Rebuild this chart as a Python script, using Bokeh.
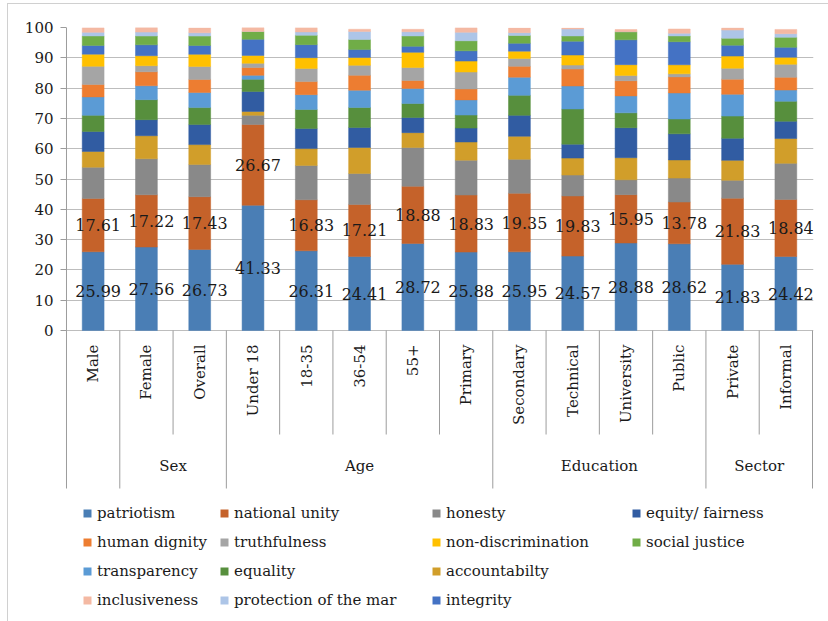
import math
from bokeh.plotting import figure
from bokeh.models import ColumnDataSource, FixedTicker, Legend, LegendItem
from bokeh.core.properties import value
from bokeh.embed import file_html
from bokeh.resources import INLINE

# ---------------- data ----------------
categories = ["Male", "Female", "Overall", "Under 18", "18-35", "36-54", "55+",
              "Primary", "Secondary", "Technical", "University", "Public",
              "Private", "Informal"]
group_names = ["", "Sex", "Age", "Education", "Sector"]
group_sizes = [1, 2, 5, 4, 2]

patriotism            = [25.99, 27.56, 26.73, 41.33, 26.31, 24.41, 28.72, 25.88, 25.95, 24.57, 28.88, 28.62, 21.83, 24.42]
national_unity        = [17.61, 17.22, 17.43, 26.67, 16.83, 17.21, 18.88, 18.83, 19.35, 19.83, 15.95, 13.78, 21.83, 18.84]
honesty               = [10.3, 11.9, 10.6, 3.0, 11.3, 10.2, 12.8, 11.5, 11.2, 6.9, 4.9, 7.9, 5.9, 11.9]
accountabilty         = [5.2, 7.6, 6.6, 1.3, 5.6, 8.6, 4.9, 6.0, 7.6, 5.6, 7.3, 6.0, 6.6, 8.2]
equity_fairness       = [6.6, 5.3, 6.6, 6.6, 6.6, 6.6, 5.0, 4.6, 6.9, 4.6, 9.9, 8.6, 7.3, 5.7]
equality              = [5.3, 6.6, 5.6, 4.0, 6.3, 6.6, 4.6, 4.3, 6.6, 11.6, 4.9, 4.9, 7.3, 6.6]
transparency          = [6.1, 4.6, 5.0, 1.3, 4.9, 5.7, 5.0, 5.0, 6.0, 7.6, 5.6, 8.6, 7.2, 3.7]
human_dignity         = [4.1, 4.6, 4.3, 2.6, 4.3, 4.9, 2.6, 3.6, 3.6, 5.6, 5.0, 5.3, 5.0, 4.2]
truthfulness          = [6.0, 2.0, 4.3, 1.4, 4.3, 3.3, 4.3, 5.6, 2.6, 1.3, 1.7, 1.0, 3.6, 4.3]
non_discrimination    = [4.0, 3.3, 4.0, 2.6, 3.6, 2.6, 5.0, 3.6, 2.4, 3.3, 3.6, 3.0, 4.0, 2.3]
integrity             = [2.9, 3.6, 2.9, 5.3, 4.3, 2.6, 2.0, 3.4, 2.6, 4.6, 8.2, 7.6, 3.6, 3.3]
social_justice        = [3.1, 2.9, 3.1, 2.6, 3.1, 3.3, 3.4, 3.3, 2.6, 1.7, 2.7, 1.9, 2.3, 3.3]
protection_of_the_mar = [1.2, 1.3, 1.1, 0.0, 1.1, 2.7, 1.4, 2.8, 0.9, 2.3, 0.0, 0.9, 2.7, 1.2]
inclusiveness         = [1.5, 1.5, 1.6, 1.3, 1.4, 0.7, 0.8, 1.5, 1.5, 0.3, 0.7, 1.4, 0.7, 1.4]

y_ticks = list(range(0, 101, 10))

# (key, legend label, values, colour) in stacking order, bottom to top
series = [
    ("patriotism", "patriotism", patriotism, "#4a7eb5"),
    ("national_unity", "national unity", national_unity, "#c5622a"),
    ("honesty", "honesty", honesty, "#898989"),
    ("accountabilty", "accountabilty", accountabilty, "#d19e2a"),
    ("equity_fairness", "equity/ fairness", equity_fairness, "#315ca2"),
    ("equality", "equality", equality, "#578f3d"),
    ("transparency", "transparency", transparency, "#5b9bd5"),
    ("human_dignity", "human dignity", human_dignity, "#ed7d31"),
    ("truthfulness", "truthfulness", truthfulness, "#a5a5a5"),
    ("non_discrimination", "non-discrimination", non_discrimination, "#ffc000"),
    ("integrity", "integrity", integrity, "#4472c4"),
    ("social_justice", "social justice", social_justice, "#70ad47"),
    ("protection_of_the_mar", "protection of the mar", protection_of_the_mar, "#adc5e7"),
    ("inclusiveness", "inclusiveness", inclusiveness, "#f4b9a3"),
]

legend_columns = [
    ["patriotism", "human dignity", "transparency", "inclusiveness"],
    ["national unity", "truthfulness", "equality", "protection of the mar"],
    ["honesty", "non-discrimination", "accountabilty", "integrity"],
    ["equity/ fairness", "social justice"],
]

# ---------------- layout constants (pixels) ----------------
W, H = 828, 621
B_LEFT, B_RIGHT, B_TOP, B_BOTTOM = 65, 15, 27, 4
PX_PER_UNIT = 303.0 / 100.0           # 0..100 spans 303 px
ZERO_PAGE = 330                        # page row of value 0
FRAME_BOTTOM_PAGE = H - B_BOTTOM
FRAME_LEFT_PAGE = B_LEFT

def y_at_page(py):
    """data y for a page pixel row (text / separator placement below the bars)"""
    return -(py - ZERO_PAGE) / PX_PER_UNIT

n = len(categories)
x_pad = 1.0 / 53.3                     # ~1 px so edge lines are not half clipped
y_min = y_at_page(FRAME_BOTTOM_PAGE)

FONT = "DejaVu Serif"
TEXT_COLOR = "#1a1a1a"
AXIS_COLOR = "#9c9c9c"
GRID_COLOR = "#bdbdbd"
CHART_BORDER = "#d0d0d0"

xs = [i + 0.5 for i in range(n)]

p = figure(width=W, height=H, x_range=(-x_pad, n + x_pad), y_range=(y_min, 100),
           output_backend="svg", toolbar_location=None,
           min_border_left=B_LEFT, min_border_right=B_RIGHT,
           min_border_top=B_TOP, min_border_bottom=B_BOTTOM)
p.outline_line_color = None
p.background_fill_color = None
p.border_fill_color = None
# chart-area border (left and top edges visible in the reference) drawn behind the canvas
p.styles = {
    "background-color": "white",
    "background-image": (f"linear-gradient({CHART_BORDER}, {CHART_BORDER}), "
                         f"linear-gradient({CHART_BORDER}, {CHART_BORDER})"),
    "background-size": "1px 100%, 100% 1px",
    "background-position": "7px 3px, 7px 3px",
    "background-repeat": "no-repeat",
}
p.xaxis.visible = False
p.xgrid.visible = False

# y axis: ticks + labels from the axis, line drawn only over 0..100
p.yaxis.ticker = FixedTicker(ticks=y_ticks)
p.yaxis.major_tick_out = 5
p.yaxis.major_tick_in = 1
p.yaxis.minor_tick_line_color = None
p.yaxis.axis_line_color = None
p.yaxis.major_tick_line_color = AXIS_COLOR
p.yaxis.major_label_text_font = FONT
p.yaxis.major_label_text_font_size = "15px"
p.yaxis.major_label_text_color = TEXT_COLOR
p.yaxis.major_label_standoff = 7
p.ygrid.grid_line_color = GRID_COLOR

p.segment(x0=[0], y0=[0], x1=[0], y1=[100], line_color=AXIS_COLOR, line_width=1)

# stacked bars
data = {"x": xs}
for key, label, vals, col in series:
    data[key] = vals
source = ColumnDataSource(data)
keys = [s[0] for s in series]
colors = [s[3] for s in series]
p.vbar_stack(keys, x="x", width=0.41, source=source,
             fill_color=colors, line_color=colors, line_width=0.5)

# value labels for the two lowest series
lx, ly, lt = [], [], []
for i in range(n):
    a = patriotism[i]
    b = national_unity[i]
    lx += [xs[i], xs[i]]
    ly += [a / 2.0, a + b / 2.0]
    lt += [f"{a:.2f}", f"{b:.2f}"]
p.text(x="x", y="y", text="t", source=ColumnDataSource(dict(x=lx, y=ly, t=lt)),
       text_font=value(FONT), text_font_size=value("16px"), text_color=TEXT_COLOR,
       text_align="center", text_baseline="middle", x_offset=5)

# category / group separators below the axis
group_bounds = [0]
for s in group_sizes:
    group_bounds.append(group_bounds[-1] + s)
short_b = [b for b in range(n + 1) if b not in group_bounds]
y_short = y_at_page(434)
y_long = y_at_page(488)
p.segment(x0=short_b, y0=[0] * len(short_b), x1=short_b, y1=[y_short] * len(short_b),
          line_color=AXIS_COLOR, line_width=1)
p.segment(x0=group_bounds, y0=[0] * len(group_bounds), x1=group_bounds,
          y1=[y_long] * len(group_bounds), line_color=AXIS_COLOR, line_width=1)

# category labels (rotated, reading upward, top-aligned)
p.text(x=xs, y=[y_at_page(344)] * n, text=categories, angle=math.pi / 2,
       text_align="right", text_baseline="middle",
       text_font=value(FONT), text_font_size=value("15px"), text_color=TEXT_COLOR)

# group labels
gx, gt = [], []
for gi, g in enumerate(group_names):
    if g:
        gx.append((group_bounds[gi] + group_bounds[gi + 1]) / 2.0)
        gt.append(g)
p.text(x=gx, y=[y_at_page(465)] * len(gx), text=gt,
       text_align="center", text_baseline="middle",
       text_font=value(FONT), text_font_size=value("15px"), text_color=TEXT_COLOR)

# legend: zero-size square markers on the real data supply the legend swatches
swatch = {}
for key, label, vals, col in series:
    swatch[label] = p.scatter(x="x", y=key, source=source, marker="square", size=0,
                              fill_color=col, line_color=None)

col_x_page = [77, 214, 426, 626]
row_top_page = 503
ROW_H, ROW_SP = 20, 9
for ci, names in enumerate(legend_columns):
    nrows = len(names)
    height = nrows * ROW_H + (nrows - 1) * ROW_SP
    bottom_page = row_top_page + height
    loc = (col_x_page[ci] - FRAME_LEFT_PAGE, FRAME_BOTTOM_PAGE - bottom_page)
    leg = Legend(items=[LegendItem(label=nm, renderers=[swatch[nm]]) for nm in names],
                 location=loc, orientation="vertical",
                 glyph_width=20, glyph_height=20, label_height=ROW_H,
                 label_standoff=0, spacing=ROW_SP, padding=0, margin=0,
                 border_line_color=None, background_fill_alpha=0,
                 label_text_font=FONT, label_text_font_size="15px",
                 label_text_color=TEXT_COLOR)
    p.add_layout(leg, "center")

open("out.html", "w").write(file_html(p, INLINE))
